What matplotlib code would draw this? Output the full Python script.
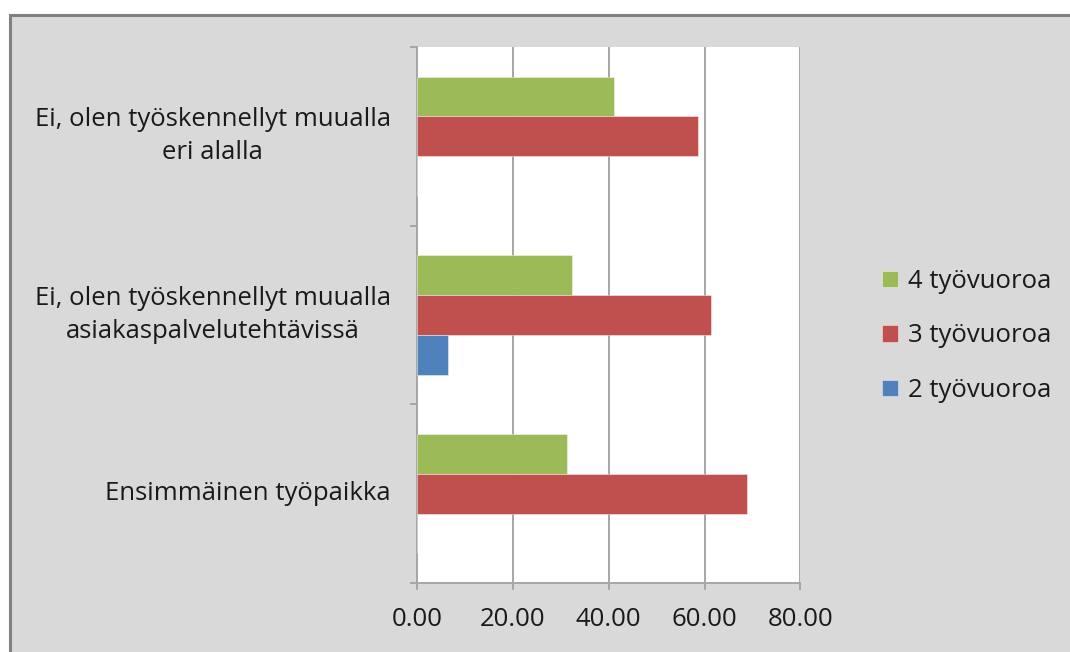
import matplotlib
matplotlib.use("Agg")
import matplotlib.pyplot as plt
from matplotlib.patches import Rectangle
import numpy as np

plt.rcParams['font.family'] = ['Open Sans', 'DejaVu Sans']

# categories bottom-to-top as they appear on the y axis
categories = ["Ensimmäinen työpaikka",
              "Ei, olen työskennellyt muualla\nasiakaspalvelutehtävissä",
              "Ei, olen työskennellyt muualla\neri alalla"]
series_names = ["4 työvuoroa", "3 työvuoroa", "2 työvuoroa"]
vals_4 = [31.2, 32.4, 41.0]
vals_3 = [68.8, 61.3, 58.7]
vals_2 = [0.0, 6.4, 0.0]
x_ticks = [0, 20, 40, 60, 80]

colors = ["#9BBB59", "#C0504D", "#4F81BD"]
bg = "#D9D9D9"
grid_col = "#A6A6A6"
fs = 18.5

fig = plt.figure(figsize=(10.7, 6.52), dpi=100, facecolor="white")

# grey chart area with darker frame on top/left
fig.patches.append(Rectangle((9.5 / 1070, -0.2), 1.2, 1.2 - 14.5 / 652,
                             transform=fig.transFigure, facecolor=bg,
                             edgecolor="#808080", linewidth=2.2, zorder=-5))

ax = fig.add_axes([417.3 / 1070, 1 - 583.3 / 652, 383 / 1070, 536.6 / 652])
ax.set_facecolor("white")

y = np.arange(len(categories))
h = 0.222
for vals, off, col, name in zip([vals_4, vals_3, vals_2], [h, 0, -h], colors, series_names):
    ax.barh(y + off, vals, height=h, color=col, label=name,
            edgecolor=(1, 1, 1, 0.5), linewidth=0.6, zorder=3)

ax.set_xlim(0, 80)
ax.set_ylim(-0.5, 2.5)
ax.set_xticks(x_ticks)
ax.set_xticklabels([f"{v:.2f}" for v in x_ticks], fontsize=fs, color="#1a1a1a")
ax.xaxis.grid(True, color=grid_col, linewidth=1.4, zorder=1)
ax.set_axisbelow(True)

ax.set_yticks(y)
ax.set_yticklabels(categories, fontsize=fs, color="#1a1a1a", va="center",
                   multialignment="center", linespacing=1.4)
ax.set_yticks(np.arange(-0.5, 3.0, 1.0), minor=True)
ax.tick_params(axis="y", which="major", length=0, pad=19)
ax.tick_params(axis="y", which="minor", length=5, width=1.4, color=grid_col)
ax.tick_params(axis="x", length=5, width=1.4, color=grid_col, pad=12)

for s in ["top", "right"]:
    ax.spines[s].set_visible(False)
for s in ["left", "bottom"]:
    ax.spines[s].set_color(grid_col)
    ax.spines[s].set_linewidth(1.4)

leg = fig.legend(loc="center left", bbox_to_anchor=(882 / 1070, 1 - 336 / 652),
                 frameon=False, fontsize=fs, borderpad=0, borderaxespad=0,
                 handlelength=0.62, handleheight=0.62, handletextpad=0.4,
                 labelspacing=1.15)
for t in leg.get_texts():
    t.set_color("#1a1a1a")

fig.savefig("out.png", dpi=100, facecolor=fig.get_facecolor())
